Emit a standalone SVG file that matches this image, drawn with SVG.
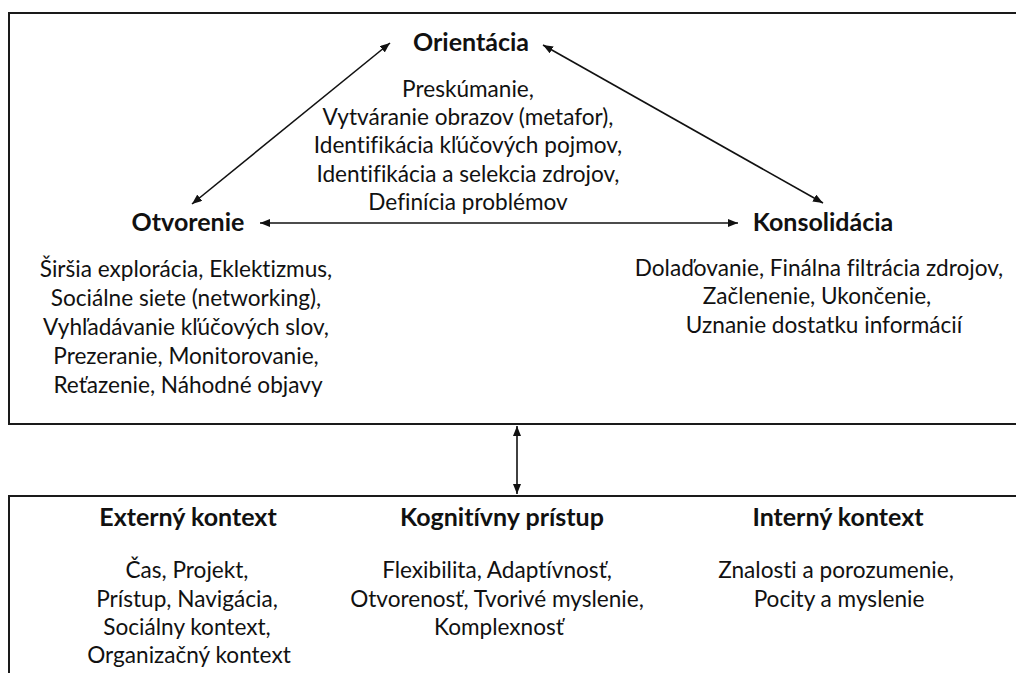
<svg xmlns="http://www.w3.org/2000/svg" width="1016" height="673" viewBox="0 0 1016 673">
  <defs>
    <marker id="head" viewBox="0 0 10 8" refX="10" refY="4" markerWidth="10" markerHeight="8" markerUnits="userSpaceOnUse" orient="auto-start-reverse">
      <path d="M0,0 L10,4 L0,8 Z" fill="#111"/>
    </marker>
    <style>
      .frame { fill: #fff; stroke: #1a1a1a; stroke-width: 2; }
      .link { stroke: #111; stroke-width: 1.6; fill: none; marker-start: url(#head); marker-end: url(#head); }
      text { font-family: Lato, "Open Sans", "Liberation Sans", sans-serif; fill: #111; text-anchor: middle; font-variant-ligatures: none; font-feature-settings: "liga" 0, "dlig" 0; }
      .title { font-size: 25px; font-weight: bold; }
      .body { font-size: 22.6px; }
    </style>
  </defs>

  <rect width="1016" height="673" fill="#fff"/>

  <!-- outer frames; both run off the right edge, the lower one off the bottom -->
  <g id="process-frame">
    <path class="frame" d="M1020,13 H9 V424 H1020"/>
  </g>
  <g id="context-frame">
    <path class="frame" d="M1020,496 H9 V680"/>
  </g>

  <!-- connectors -->
  <g id="connectors">
    <line class="link" x1="390" y1="43" x2="192" y2="204"/>
    <line class="link" x1="543" y1="45" x2="823" y2="203"/>
    <line class="link" x1="260" y1="223" x2="738" y2="223"/>
    <line class="link" x1="517" y1="426" x2="517" y2="494"/>
  </g>

  <g id="orientacia">
    <text class="title" x="471" y="51">Orientácia</text>
    <text class="body" x="468" y="97">Preskúmanie,</text>
    <text class="body" x="468" y="125">Vytváranie obrazov (metafor),</text>
    <text class="body" x="468" y="153">Identifikácia kľúčových pojmov,</text>
    <text class="body" x="468" y="182">Identifikácia a selekcia zdrojov,</text>
    <text class="body" x="468" y="210">Definícia problémov</text>
  </g>

  <g id="otvorenie">
    <text class="title" x="188" y="231">Otvorenie</text>
    <text class="body" x="186" y="277">Širšia explorácia, Eklektizmus,</text>
    <text class="body" x="186" y="306">Sociálne siete (networking),</text>
    <text class="body" x="186" y="335">Vyhľadávanie kľúčových slov,</text>
    <text class="body" x="186" y="364">Prezeranie, Monitorovanie,</text>
    <text class="body" x="188" y="393">Reťazenie, Náhodné objavy</text>
  </g>

  <g id="konsolidacia">
    <text class="title" x="823" y="231">Konsolidácia</text>
    <text class="body" x="819" y="276">Dolaďovanie, Finálna filtrácia zdrojov,</text>
    <text class="body" x="817" y="304">Začlenenie, Ukončenie,</text>
    <text class="body" x="824" y="333">Uznanie dostatku informácií</text>
  </g>

  <g id="externy-kontext">
    <text class="title" x="188" y="526">Externý kontext</text>
    <text class="body" x="187" y="578">Čas, Projekt,</text>
    <text class="body" x="187" y="607">Prístup, Navigácia,</text>
    <text class="body" x="187" y="635">Sociálny kontext,</text>
    <text class="body" x="189" y="663">Organizačný kontext</text>
  </g>

  <g id="kognitivny-pristup">
    <text class="title" x="502" y="526">Kognitívny prístup</text>
    <text class="body" x="497" y="578">Flexibilita, Adaptívnosť,</text>
    <text class="body" x="497" y="607">Otvorenosť, Tvorivé myslenie,</text>
    <text class="body" x="499" y="635">Komplexnosť</text>
  </g>

  <g id="interny-kontext">
    <text class="title" x="838" y="526">Interný kontext</text>
    <text class="body" x="836" y="578">Znalosti a porozumenie,</text>
    <text class="body" x="839" y="607">Pocity a myslenie</text>
  </g>
</svg>
